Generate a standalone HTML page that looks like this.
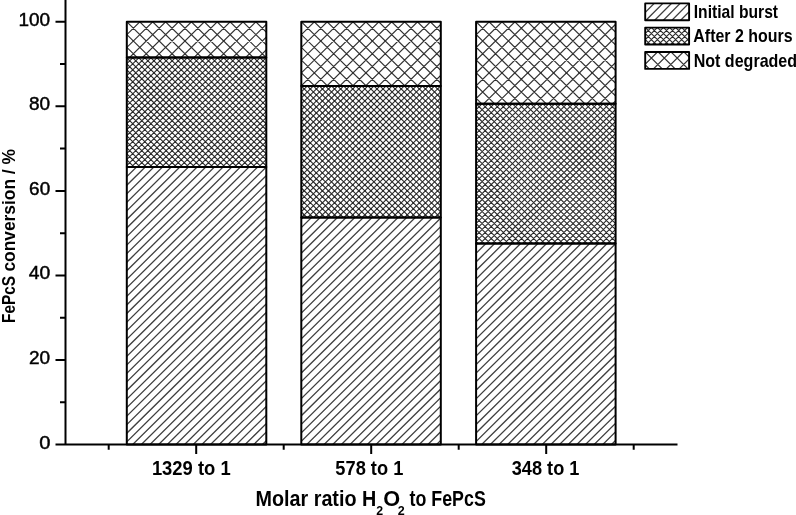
<!DOCTYPE html>
<html><head><meta charset="utf-8"><title>FePcS conversion chart</title>
<style>html,body{margin:0;padding:0;background:#fff;overflow:hidden}svg{display:block;will-change:transform}text{font-family:"Liberation Sans",sans-serif;fill:#000}</style>
</head><body>
<svg width="796" height="515" viewBox="0 0 796 515"><defs><clipPath id="c1"><rect x="126.8" y="167" width="139.5" height="277.5"/></clipPath><clipPath id="c2"><rect x="126.8" y="57.5" width="139.5" height="109.5"/></clipPath><clipPath id="c3"><rect x="126.8" y="21.8" width="139.5" height="35.7"/></clipPath><clipPath id="c4"><rect x="301.3" y="217.5" width="139.5" height="227"/></clipPath><clipPath id="c5"><rect x="301.3" y="86" width="139.5" height="131.5"/></clipPath><clipPath id="c6"><rect x="301.3" y="21.8" width="139.5" height="64.2"/></clipPath><clipPath id="c7"><rect x="476.1" y="243.6" width="139.5" height="200.9"/></clipPath><clipPath id="c8"><rect x="476.1" y="103.7" width="139.5" height="139.9"/></clipPath><clipPath id="c9"><rect x="476.1" y="21.8" width="139.5" height="81.9"/></clipPath><clipPath id="c10"><rect x="645.2" y="3.4" width="43.9" height="16.9"/></clipPath><clipPath id="c11"><rect x="645.2" y="27.6" width="43.9" height="16.9"/></clipPath><clipPath id="c12"><rect x="645.2" y="52" width="43.9" height="16.9"/></clipPath></defs><rect width="796" height="515" fill="#fff"/><path clip-path="url(#c1)" d="M-163.44 446.5L121.3 165M-154.79 446.5L129.95 165M-146.14 446.5L138.6 165M-137.49 446.5L147.25 165M-128.84 446.5L155.9 165M-120.19 446.5L164.55 165M-111.54 446.5L173.2 165M-102.89 446.5L181.85 165M-94.24 446.5L190.5 165M-85.59 446.5L199.15 165M-76.94 446.5L207.8 165M-68.29 446.5L216.45 165M-59.64 446.5L225.1 165M-50.99 446.5L233.75 165M-42.34 446.5L242.4 165M-33.69 446.5L251.05 165M-25.04 446.5L259.7 165M-16.39 446.5L268.35 165M-7.74 446.5L277 165M0.91 446.5L285.65 165M9.56 446.5L294.3 165M18.21 446.5L302.95 165M26.86 446.5L311.6 165M35.51 446.5L320.25 165M44.16 446.5L328.9 165M52.81 446.5L337.55 165M61.46 446.5L346.2 165M70.11 446.5L354.85 165M78.76 446.5L363.5 165M87.41 446.5L372.15 165M96.06 446.5L380.8 165M104.71 446.5L389.45 165M113.36 446.5L398.1 165M122.01 446.5L406.75 165M130.66 446.5L415.4 165M139.31 446.5L424.05 165M147.96 446.5L432.7 165M156.61 446.5L441.35 165M165.26 446.5L450 165M173.91 446.5L458.65 165M182.56 446.5L467.3 165M191.21 446.5L475.95 165M199.86 446.5L484.6 165M208.51 446.5L493.25 165M217.16 446.5L501.9 165M225.81 446.5L510.55 165M234.46 446.5L519.2 165M243.11 446.5L527.85 165M251.76 446.5L536.5 165M260.41 446.5L545.15 165M269.06 446.5L553.8 165" stroke="#404040" stroke-width="1.3" fill="none"/><path clip-path="url(#c2)" d="M8.15 169L122.96 55.5M14.21 169L129.02 55.5M20.27 169L135.08 55.5M26.33 169L141.14 55.5M32.39 169L147.2 55.5M38.45 169L153.26 55.5M44.51 169L159.32 55.5M50.57 169L165.38 55.5M56.63 169L171.44 55.5M62.69 169L177.5 55.5M68.75 169L183.56 55.5M74.81 169L189.62 55.5M80.87 169L195.68 55.5M86.93 169L201.74 55.5M92.99 169L207.8 55.5M99.05 169L213.86 55.5M105.11 169L219.92 55.5M111.17 169L225.98 55.5M117.23 169L232.04 55.5M123.29 169L238.1 55.5M129.35 169L244.16 55.5M135.41 169L250.22 55.5M141.47 169L256.28 55.5M147.53 169L262.34 55.5M153.59 169L268.4 55.5M159.65 169L274.46 55.5M165.71 169L280.52 55.5M171.77 169L286.58 55.5M177.83 169L292.64 55.5M183.89 169L298.7 55.5M189.95 169L304.76 55.5M196.01 169L310.82 55.5M202.07 169L316.88 55.5M208.13 169L322.94 55.5M214.19 169L329 55.5M220.25 169L335.06 55.5M226.31 169L341.12 55.5M232.37 169L347.18 55.5M238.43 169L353.24 55.5M244.49 169L359.3 55.5M250.55 169L365.36 55.5M256.61 169L371.42 55.5M262.67 169L377.48 55.5M268.73 169L383.54 55.5M9.2 55.5L124.01 169M15.26 55.5L130.07 169M21.32 55.5L136.13 169M27.38 55.5L142.19 169M33.44 55.5L148.25 169M39.5 55.5L154.31 169M45.56 55.5L160.37 169M51.62 55.5L166.43 169M57.68 55.5L172.49 169M63.74 55.5L178.55 169M69.8 55.5L184.61 169M75.86 55.5L190.67 169M81.92 55.5L196.73 169M87.98 55.5L202.79 169M94.04 55.5L208.85 169M100.1 55.5L214.91 169M106.16 55.5L220.97 169M112.22 55.5L227.03 169M118.28 55.5L233.09 169M124.34 55.5L239.15 169M130.4 55.5L245.21 169M136.46 55.5L251.27 169M142.52 55.5L257.33 169M148.58 55.5L263.39 169M154.64 55.5L269.45 169M160.7 55.5L275.51 169M166.76 55.5L281.57 169M172.82 55.5L287.63 169M178.88 55.5L293.69 169M184.94 55.5L299.75 169M191 55.5L305.81 169M197.06 55.5L311.87 169M203.12 55.5L317.93 169M209.18 55.5L323.99 169M215.24 55.5L330.05 169M221.3 55.5L336.11 169M227.36 55.5L342.17 169M233.42 55.5L348.23 169M239.48 55.5L354.29 169M245.54 55.5L360.35 169M251.6 55.5L366.41 169M257.66 55.5L372.47 169M263.72 55.5L378.53 169M269.78 55.5L384.59 169" stroke="#2a2a2a" stroke-width="1.1" fill="none"/><path clip-path="url(#c3)" d="M75.94 59.5L116.09 19.8M88.84 59.5L128.99 19.8M101.74 59.5L141.89 19.8M114.64 59.5L154.79 19.8M127.54 59.5L167.69 19.8M140.44 59.5L180.59 19.8M153.34 59.5L193.49 19.8M166.24 59.5L206.39 19.8M179.14 59.5L219.29 19.8M192.04 59.5L232.19 19.8M204.94 59.5L245.09 19.8M217.84 59.5L257.99 19.8M230.74 59.5L270.89 19.8M243.64 59.5L283.79 19.8M256.54 59.5L296.69 19.8M269.44 59.5L309.59 19.8M86.11 19.8L126.26 59.5M99.01 19.8L139.16 59.5M111.91 19.8L152.06 59.5M124.81 19.8L164.96 59.5M137.71 19.8L177.86 59.5M150.61 19.8L190.76 59.5M163.51 19.8L203.66 59.5M176.41 19.8L216.56 59.5M189.31 19.8L229.46 59.5M202.21 19.8L242.36 59.5M215.11 19.8L255.26 59.5M228.01 19.8L268.16 59.5M240.91 19.8L281.06 59.5M253.81 19.8L293.96 59.5M266.71 19.8L306.86 59.5" stroke="#333" stroke-width="1.2" fill="none"/><rect x="126.8" y="167" width="139.5" height="277.5" fill="none" stroke="#000" stroke-width="2.0" stroke-linejoin="round"/><rect x="126.8" y="57.5" width="139.5" height="109.5" fill="none" stroke="#000" stroke-width="2.0" stroke-linejoin="round"/><rect x="126.8" y="21.8" width="139.5" height="35.7" fill="none" stroke="#000" stroke-width="2.0" stroke-linejoin="round"/><path clip-path="url(#c4)" d="M62.56 446.5L296.22 215.5M71.21 446.5L304.87 215.5M79.86 446.5L313.52 215.5M88.51 446.5L322.17 215.5M97.16 446.5L330.82 215.5M105.81 446.5L339.47 215.5M114.46 446.5L348.12 215.5M123.11 446.5L356.77 215.5M131.76 446.5L365.42 215.5M140.41 446.5L374.07 215.5M149.06 446.5L382.72 215.5M157.71 446.5L391.37 215.5M166.36 446.5L400.02 215.5M175.01 446.5L408.67 215.5M183.66 446.5L417.32 215.5M192.31 446.5L425.97 215.5M200.96 446.5L434.62 215.5M209.61 446.5L443.27 215.5M218.26 446.5L451.92 215.5M226.91 446.5L460.57 215.5M235.56 446.5L469.22 215.5M244.21 446.5L477.87 215.5M252.86 446.5L486.52 215.5M261.51 446.5L495.17 215.5M270.16 446.5L503.82 215.5M278.81 446.5L512.47 215.5M287.46 446.5L521.12 215.5M296.11 446.5L529.77 215.5M304.76 446.5L538.42 215.5M313.41 446.5L547.07 215.5M322.06 446.5L555.72 215.5M330.71 446.5L564.37 215.5M339.36 446.5L573.02 215.5M348.01 446.5L581.67 215.5M356.66 446.5L590.32 215.5M365.31 446.5L598.97 215.5M373.96 446.5L607.62 215.5M382.61 446.5L616.27 215.5M391.26 446.5L624.92 215.5M399.91 446.5L633.57 215.5M408.56 446.5L642.22 215.5M417.21 446.5L650.87 215.5M425.86 446.5L659.52 215.5M434.51 446.5L668.17 215.5M443.16 446.5L676.82 215.5" stroke="#404040" stroke-width="1.3" fill="none"/><path clip-path="url(#c5)" d="M160.1 219.5L297.16 84M166.16 219.5L303.22 84M172.22 219.5L309.28 84M178.28 219.5L315.34 84M184.34 219.5L321.4 84M190.4 219.5L327.46 84M196.46 219.5L333.52 84M202.52 219.5L339.58 84M208.58 219.5L345.64 84M214.64 219.5L351.7 84M220.7 219.5L357.76 84M226.76 219.5L363.82 84M232.82 219.5L369.88 84M238.88 219.5L375.94 84M244.94 219.5L382 84M251 219.5L388.06 84M257.06 219.5L394.12 84M263.12 219.5L400.18 84M269.18 219.5L406.24 84M275.24 219.5L412.3 84M281.3 219.5L418.36 84M287.36 219.5L424.42 84M293.42 219.5L430.48 84M299.48 219.5L436.54 84M305.54 219.5L442.6 84M311.6 219.5L448.66 84M317.66 219.5L454.72 84M323.72 219.5L460.78 84M329.78 219.5L466.84 84M335.84 219.5L472.9 84M341.9 219.5L478.96 84M347.96 219.5L485.02 84M354.02 219.5L491.08 84M360.08 219.5L497.14 84M366.14 219.5L503.2 84M372.2 219.5L509.26 84M378.26 219.5L515.32 84M384.32 219.5L521.38 84M390.38 219.5L527.44 84M396.44 219.5L533.5 84M402.5 219.5L539.56 84M408.56 219.5L545.62 84M414.62 219.5L551.68 84M420.68 219.5L557.74 84M426.74 219.5L563.8 84M432.8 219.5L569.86 84M438.86 219.5L575.92 84M444.92 219.5L581.98 84M159.84 84L296.9 219.5M165.9 84L302.96 219.5M171.96 84L309.02 219.5M178.02 84L315.08 219.5M184.08 84L321.14 219.5M190.14 84L327.2 219.5M196.2 84L333.26 219.5M202.26 84L339.32 219.5M208.32 84L345.38 219.5M214.38 84L351.44 219.5M220.44 84L357.5 219.5M226.5 84L363.56 219.5M232.56 84L369.62 219.5M238.62 84L375.68 219.5M244.68 84L381.74 219.5M250.74 84L387.8 219.5M256.8 84L393.86 219.5M262.86 84L399.92 219.5M268.92 84L405.98 219.5M274.98 84L412.04 219.5M281.04 84L418.1 219.5M287.1 84L424.16 219.5M293.16 84L430.22 219.5M299.22 84L436.28 219.5M305.28 84L442.34 219.5M311.34 84L448.4 219.5M317.4 84L454.46 219.5M323.46 84L460.52 219.5M329.52 84L466.58 219.5M335.58 84L472.64 219.5M341.64 84L478.7 219.5M347.7 84L484.76 219.5M353.76 84L490.82 219.5M359.82 84L496.88 219.5M365.88 84L502.94 219.5M371.94 84L509 219.5M378 84L515.06 219.5M384.06 84L521.12 219.5M390.12 84L527.18 219.5M396.18 84L533.24 219.5M402.24 84L539.3 219.5M408.3 84L545.36 219.5M414.36 84L551.42 219.5M420.42 84L557.48 219.5M426.48 84L563.54 219.5M432.54 84L569.6 219.5M438.6 84L575.66 219.5M444.66 84L581.72 219.5" stroke="#2a2a2a" stroke-width="1.1" fill="none"/><path clip-path="url(#c6)" d="M221.61 88L290.59 19.8M234.51 88L303.49 19.8M247.41 88L316.39 19.8M260.31 88L329.29 19.8M273.21 88L342.19 19.8M286.11 88L355.09 19.8M299.01 88L367.99 19.8M311.91 88L380.89 19.8M324.81 88L393.79 19.8M337.71 88L406.69 19.8M350.61 88L419.59 19.8M363.51 88L432.49 19.8M376.41 88L445.39 19.8M389.31 88L458.29 19.8M402.21 88L471.19 19.8M415.11 88L484.09 19.8M428.01 88L496.99 19.8M440.91 88L509.89 19.8M221.91 19.8L290.89 88M234.81 19.8L303.79 88M247.71 19.8L316.69 88M260.61 19.8L329.59 88M273.51 19.8L342.49 88M286.41 19.8L355.39 88M299.31 19.8L368.29 88M312.21 19.8L381.19 88M325.11 19.8L394.09 88M338.01 19.8L406.99 88M350.91 19.8L419.89 88M363.81 19.8L432.79 88M376.71 19.8L445.69 88M389.61 19.8L458.59 88M402.51 19.8L471.49 88M415.41 19.8L484.39 88M428.31 19.8L497.29 88M441.21 19.8L510.19 88" stroke="#333" stroke-width="1.2" fill="none"/><rect x="301.3" y="217.5" width="139.5" height="227" fill="none" stroke="#000" stroke-width="2.0" stroke-linejoin="round"/><rect x="301.3" y="86" width="139.5" height="131.5" fill="none" stroke="#000" stroke-width="2.0" stroke-linejoin="round"/><rect x="301.3" y="21.8" width="139.5" height="64.2" fill="none" stroke="#000" stroke-width="2.0" stroke-linejoin="round"/><path clip-path="url(#c7)" d="M263.41 446.5L470.67 241.6M272.06 446.5L479.32 241.6M280.71 446.5L487.97 241.6M289.36 446.5L496.62 241.6M298.01 446.5L505.27 241.6M306.66 446.5L513.92 241.6M315.31 446.5L522.57 241.6M323.96 446.5L531.22 241.6M332.61 446.5L539.87 241.6M341.26 446.5L548.52 241.6M349.91 446.5L557.17 241.6M358.56 446.5L565.82 241.6M367.21 446.5L574.47 241.6M375.86 446.5L583.12 241.6M384.51 446.5L591.77 241.6M393.16 446.5L600.42 241.6M401.81 446.5L609.07 241.6M410.46 446.5L617.72 241.6M419.11 446.5L626.37 241.6M427.76 446.5L635.02 241.6M436.41 446.5L643.67 241.6M445.06 446.5L652.32 241.6M453.71 446.5L660.97 241.6M462.36 446.5L669.62 241.6M471.01 446.5L678.27 241.6M479.66 446.5L686.92 241.6M488.31 446.5L695.57 241.6M496.96 446.5L704.22 241.6M505.61 446.5L712.87 241.6M514.26 446.5L721.52 241.6M522.91 446.5L730.17 241.6M531.56 446.5L738.82 241.6M540.21 446.5L747.47 241.6M548.86 446.5L756.12 241.6M557.51 446.5L764.77 241.6M566.16 446.5L773.42 241.6M574.81 446.5L782.07 241.6M583.46 446.5L790.72 241.6M592.11 446.5L799.37 241.6M600.76 446.5L808.02 241.6M609.41 446.5L816.67 241.6M618.06 446.5L825.32 241.6" stroke="#404040" stroke-width="1.3" fill="none"/><path clip-path="url(#c8)" d="M326.48 245.6L472.03 101.7M332.54 245.6L478.09 101.7M338.6 245.6L484.15 101.7M344.66 245.6L490.21 101.7M350.72 245.6L496.27 101.7M356.78 245.6L502.33 101.7M362.84 245.6L508.39 101.7M368.9 245.6L514.45 101.7M374.96 245.6L520.51 101.7M381.02 245.6L526.57 101.7M387.08 245.6L532.63 101.7M393.14 245.6L538.69 101.7M399.2 245.6L544.75 101.7M405.26 245.6L550.81 101.7M411.32 245.6L556.87 101.7M417.38 245.6L562.93 101.7M423.44 245.6L568.99 101.7M429.5 245.6L575.05 101.7M435.56 245.6L581.11 101.7M441.62 245.6L587.17 101.7M447.68 245.6L593.23 101.7M453.74 245.6L599.29 101.7M459.8 245.6L605.35 101.7M465.86 245.6L611.41 101.7M471.92 245.6L617.47 101.7M477.98 245.6L623.53 101.7M484.04 245.6L629.59 101.7M490.1 245.6L635.65 101.7M496.16 245.6L641.71 101.7M502.22 245.6L647.77 101.7M508.28 245.6L653.83 101.7M514.34 245.6L659.89 101.7M520.4 245.6L665.95 101.7M526.46 245.6L672.01 101.7M532.52 245.6L678.07 101.7M538.58 245.6L684.13 101.7M544.64 245.6L690.19 101.7M550.7 245.6L696.25 101.7M556.76 245.6L702.31 101.7M562.82 245.6L708.37 101.7M568.88 245.6L714.43 101.7M574.94 245.6L720.49 101.7M581 245.6L726.55 101.7M587.06 245.6L732.61 101.7M593.12 245.6L738.67 101.7M599.18 245.6L744.73 101.7M605.24 245.6L750.79 101.7M611.3 245.6L756.85 101.7M617.36 245.6L762.91 101.7M328.61 101.7L474.16 245.6M334.67 101.7L480.22 245.6M340.73 101.7L486.28 245.6M346.79 101.7L492.34 245.6M352.85 101.7L498.4 245.6M358.91 101.7L504.46 245.6M364.97 101.7L510.52 245.6M371.03 101.7L516.58 245.6M377.09 101.7L522.64 245.6M383.15 101.7L528.7 245.6M389.21 101.7L534.76 245.6M395.27 101.7L540.82 245.6M401.33 101.7L546.88 245.6M407.39 101.7L552.94 245.6M413.45 101.7L559 245.6M419.51 101.7L565.06 245.6M425.57 101.7L571.12 245.6M431.63 101.7L577.18 245.6M437.69 101.7L583.24 245.6M443.75 101.7L589.3 245.6M449.81 101.7L595.36 245.6M455.87 101.7L601.42 245.6M461.93 101.7L607.48 245.6M467.99 101.7L613.54 245.6M474.05 101.7L619.6 245.6M480.11 101.7L625.66 245.6M486.17 101.7L631.72 245.6M492.23 101.7L637.78 245.6M498.29 101.7L643.84 245.6M504.35 101.7L649.9 245.6M510.41 101.7L655.96 245.6M516.47 101.7L662.02 245.6M522.53 101.7L668.08 245.6M528.59 101.7L674.14 245.6M534.65 101.7L680.2 245.6M540.71 101.7L686.26 245.6M546.77 101.7L692.32 245.6M552.83 101.7L698.38 245.6M558.89 101.7L704.44 245.6M564.95 101.7L710.5 245.6M571.01 101.7L716.56 245.6M577.07 101.7L722.62 245.6M583.13 101.7L728.68 245.6M589.19 101.7L734.74 245.6M595.25 101.7L740.8 245.6M601.31 101.7L746.86 245.6M607.37 101.7L752.92 245.6M613.43 101.7L758.98 245.6M619.49 101.7L765.04 245.6" stroke="#2a2a2a" stroke-width="1.1" fill="none"/><path clip-path="url(#c9)" d="M378.51 105.7L465.39 19.8M391.41 105.7L478.29 19.8M404.31 105.7L491.19 19.8M417.21 105.7L504.09 19.8M430.11 105.7L516.99 19.8M443.01 105.7L529.89 19.8M455.91 105.7L542.79 19.8M468.81 105.7L555.69 19.8M481.71 105.7L568.59 19.8M494.61 105.7L581.49 19.8M507.51 105.7L594.39 19.8M520.41 105.7L607.29 19.8M533.31 105.7L620.19 19.8M546.21 105.7L633.09 19.8M559.11 105.7L645.99 19.8M572.01 105.7L658.89 19.8M584.91 105.7L671.79 19.8M597.81 105.7L684.69 19.8M610.71 105.7L697.59 19.8M623.61 105.7L710.49 19.8M383.81 19.8L470.69 105.7M396.71 19.8L483.59 105.7M409.61 19.8L496.49 105.7M422.51 19.8L509.39 105.7M435.41 19.8L522.29 105.7M448.31 19.8L535.19 105.7M461.21 19.8L548.09 105.7M474.11 19.8L560.99 105.7M487.01 19.8L573.89 105.7M499.91 19.8L586.79 105.7M512.81 19.8L599.69 105.7M525.71 19.8L612.59 105.7M538.61 19.8L625.49 105.7M551.51 19.8L638.39 105.7M564.41 19.8L651.29 105.7M577.31 19.8L664.19 105.7M590.21 19.8L677.09 105.7M603.11 19.8L689.99 105.7M616.01 19.8L702.89 105.7" stroke="#333" stroke-width="1.2" fill="none"/><rect x="476.1" y="243.6" width="139.5" height="200.9" fill="none" stroke="#000" stroke-width="2.0" stroke-linejoin="round"/><rect x="476.1" y="103.7" width="139.5" height="139.9" fill="none" stroke="#000" stroke-width="2.0" stroke-linejoin="round"/><rect x="476.1" y="21.8" width="139.5" height="81.9" fill="none" stroke="#000" stroke-width="2.0" stroke-linejoin="round"/><path clip-path="url(#c10)" d="M618 22.3L638.9 1.4M626.65 22.3L647.55 1.4M635.3 22.3L656.2 1.4M643.95 22.3L664.85 1.4M652.6 22.3L673.5 1.4M661.25 22.3L682.15 1.4M669.9 22.3L690.8 1.4M678.55 22.3L699.45 1.4M687.2 22.3L708.1 1.4M695.85 22.3L716.75 1.4" stroke="#404040" stroke-width="1.3" fill="none"/><rect x="645.2" y="3.4" width="43.9" height="16.9" fill="none" stroke="#000" stroke-width="1.9" stroke-linejoin="round"/><path clip-path="url(#c11)" d="M620.18 46.5L641.08 25.6M626.24 46.5L647.14 25.6M632.3 46.5L653.2 25.6M638.36 46.5L659.26 25.6M644.42 46.5L665.32 25.6M650.48 46.5L671.38 25.6M656.54 46.5L677.44 25.6M662.6 46.5L683.5 25.6M668.66 46.5L689.56 25.6M674.72 46.5L695.62 25.6M680.78 46.5L701.68 25.6M686.84 46.5L707.74 25.6M692.9 46.5L713.8 25.6M619.16 25.6L640.06 46.5M625.22 25.6L646.12 46.5M631.28 25.6L652.18 46.5M637.34 25.6L658.24 46.5M643.4 25.6L664.3 46.5M649.46 25.6L670.36 46.5M655.52 25.6L676.42 46.5M661.58 25.6L682.48 46.5M667.64 25.6L688.54 46.5M673.7 25.6L694.6 46.5M679.76 25.6L700.66 46.5M685.82 25.6L706.72 46.5M691.88 25.6L712.78 46.5" stroke="#2a2a2a" stroke-width="1.1" fill="none"/><rect x="645.2" y="27.6" width="43.9" height="16.9" fill="none" stroke="#000" stroke-width="1.9" stroke-linejoin="round"/><path clip-path="url(#c12)" d="M612.75 70.9L633.65 50M625.65 70.9L646.55 50M638.55 70.9L659.45 50M651.45 70.9L672.35 50M664.35 70.9L685.25 50M677.25 70.9L698.15 50M690.15 70.9L711.05 50M617.55 50L638.45 70.9M630.45 50L651.35 70.9M643.35 50L664.25 70.9M656.25 50L677.15 70.9M669.15 50L690.05 70.9M682.05 50L702.95 70.9M694.95 50L715.85 70.9" stroke="#333" stroke-width="1.2" fill="none"/><rect x="645.2" y="52" width="43.9" height="16.9" fill="none" stroke="#000" stroke-width="1.9" stroke-linejoin="round"/><path d="M65.5 0V445.5M55.5 444.5H677.5M55.5 444.5H65.5M55.5 359.96H65.5M55.5 275.42H65.5M55.5 190.88H65.5M55.5 106.34H65.5M55.5 21.8H65.5M60 402.23H65.5M60 317.69H65.5M60 233.15H65.5M60 148.61H65.5M60 64.07H65.5M196.2 444.5V454M371.2 444.5V454M546.2 444.5V454M108.7 444.5V449.7M283.7 444.5V449.7M458.7 444.5V449.7M633.7 444.5V449.7" stroke="#000" stroke-width="2.0" fill="none"/><text x="39.3" y="448.83" font-size="18.8" stroke="#000" stroke-width="0.45" textLength="11.2" lengthAdjust="spacingAndGlyphs">0</text><text x="28.92" y="363.75" font-size="18.8" stroke="#000" stroke-width="0.45" textLength="21.14" lengthAdjust="spacingAndGlyphs">20</text><text x="28.71" y="278.9" font-size="18.8" stroke="#000" stroke-width="0.45" textLength="21.46" lengthAdjust="spacingAndGlyphs">40</text><text x="29.14" y="195.48" font-size="18.8" stroke="#000" stroke-width="0.45" textLength="21.01" lengthAdjust="spacingAndGlyphs">60</text><text x="29.07" y="109.96" font-size="18.8" stroke="#000" stroke-width="0.45" textLength="21.1" lengthAdjust="spacingAndGlyphs">80</text><text x="18.52" y="26.36" font-size="18.8" stroke="#000" stroke-width="0.45" textLength="31.64" lengthAdjust="spacingAndGlyphs">100</text><text x="151.88" y="475.4" font-size="19.95" font-weight="bold" textLength="78.76" lengthAdjust="spacingAndGlyphs">1329 to 1</text><text x="335.36" y="475.4" font-size="19.95" font-weight="bold" textLength="67.93" lengthAdjust="spacingAndGlyphs">578 to 1</text><text x="511.76" y="475.4" font-size="19.95" font-weight="bold" textLength="67.62" lengthAdjust="spacingAndGlyphs">348 to 1</text><text x="255.51" y="505.7" font-size="21.69" font-weight="bold" textLength="120.78" lengthAdjust="spacingAndGlyphs">Molar ratio H</text><text x="376.31" y="514.58" font-size="13" font-weight="bold" textLength="6.89" lengthAdjust="spacingAndGlyphs">2</text><text x="383.22" y="506.46" font-size="21.64" font-weight="bold" textLength="16.93" lengthAdjust="spacingAndGlyphs">O</text><text x="397.63" y="515.27" font-size="13" font-weight="bold" textLength="6.97" lengthAdjust="spacingAndGlyphs">2</text><text x="409.6" y="506.4" font-size="21.53" font-weight="bold" textLength="76.18" lengthAdjust="spacingAndGlyphs">to FePcS</text><text transform="translate(15.45 322.98) rotate(-90)" font-size="19.1" font-weight="bold" textLength="47.03" lengthAdjust="spacingAndGlyphs">FePcS</text><text transform="translate(15.45 271.55) rotate(-90)" font-size="19.1" font-weight="bold" textLength="122.51" lengthAdjust="spacingAndGlyphs">conversion / %</text><text x="693.73" y="18.1" font-size="17.53" font-weight="bold" textLength="84.35" lengthAdjust="spacingAndGlyphs">Initial burst</text><text x="693.32" y="42.4" font-size="17.53" font-weight="bold" textLength="99.19" lengthAdjust="spacingAndGlyphs">After 2 hours</text><text x="693.65" y="67" font-size="17.53" font-weight="bold" textLength="103.47" lengthAdjust="spacingAndGlyphs">Not degraded</text></svg>
</body></html>
